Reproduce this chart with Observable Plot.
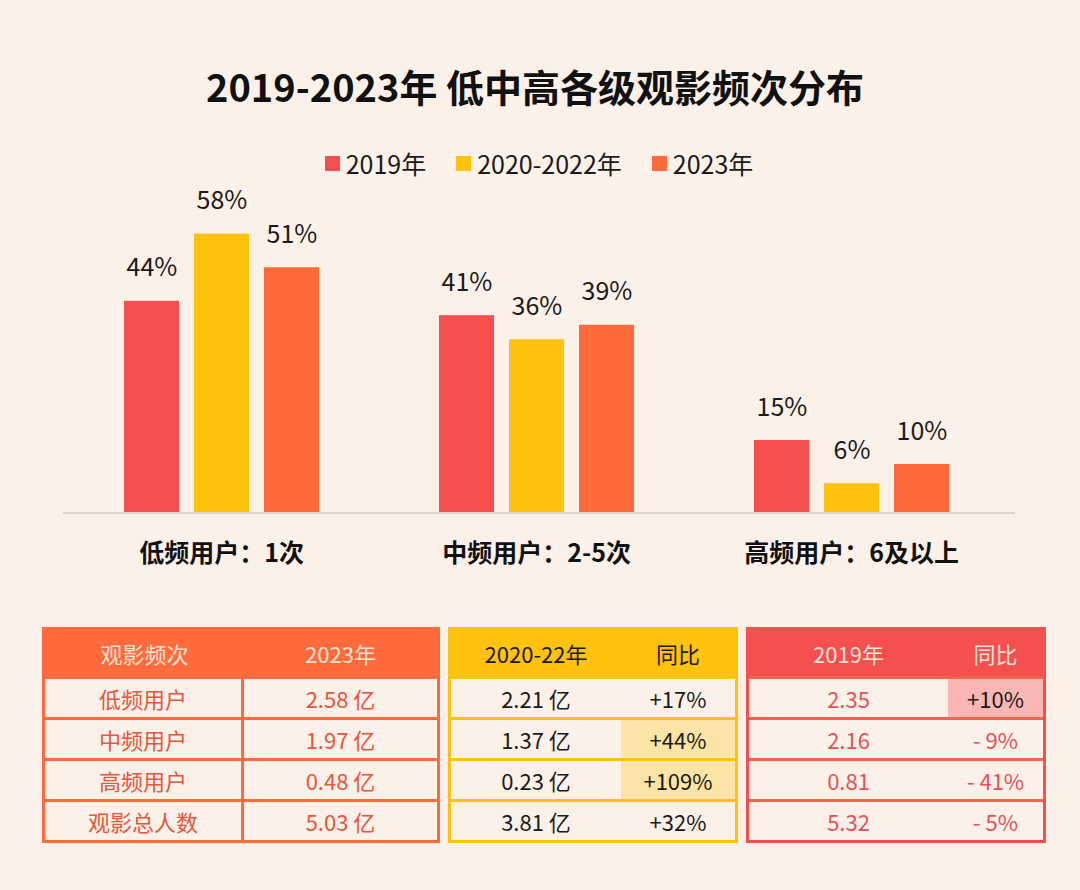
<!DOCTYPE html>
<html>
<head>
<meta charset="utf-8">
<script src="https://cdn.jsdelivr.net/npm/d3@7"></script>
<script src="https://cdn.jsdelivr.net/npm/@observablehq/plot@0.6"></script>
<style>
  html, body { margin: 0; padding: 0; background: #FCF1E8; }
  body { font-family: "Noto Sans CJK SC", "Noto Sans", sans-serif; }
  #page { position: relative; width: 1080px; height: 890px; overflow: hidden; background: #FCF1E8; }
  #title { position: absolute; top: 59px; left: 0; width: 1070px; text-align: center; font-size: 38px; font-weight: 700; color: #111; line-height: 54px; }
  #legend { position: absolute; top: 145px; left: 0; width: 1078px; display: flex; justify-content: center; gap: 30px; font-size: 25px; color: #1a1a1a; line-height: 36px; }
  #legend .item { display: flex; align-items: center; }
  #legend .sw { width: 15px; height: 15px; margin-right: 6px; }
  #chart { position: absolute; top: 180px; left: 0; }
  .tbl { position: absolute; top: 627px; height: 216px; box-sizing: border-box; border: 3px solid; display: grid; }
  .tbl .c { display: flex; align-items: center; justify-content: center; font-size: 22px; box-sizing: border-box; }
  .tbl .h { height: 46px; }
  .tbl .b { height: 41px; border-top: 3px solid; }
</style>
</head>
<body>
<div id="page">
  <div id="title"></div>
  <div id="legend"></div>
  <div id="chart"></div>
  <div id="t1" class="tbl"></div>
  <div id="t2" class="tbl"></div>
  <div id="t3" class="tbl"></div>
</div>
<script>
// ---- chart data ----
const titleText = "2019-2023年 低中高各级观影频次分布";
const categories = ["低频用户：1次", "中频用户：2-5次", "高频用户：6及以上"];
const series = ["2019年", "2020-2022年", "2023年"];
const share2019 = [44, 41, 15];
const share2020_2022 = [58, 36, 6];
const share2023 = [51, 39, 10];
const seriesColors = ["#F5504F", "#FFC20E", "#FF6A3D"];

// ---- table data ----
const freqLabels = ["低频用户", "中频用户", "高频用户", "观影总人数"];
const users2023 = ["2.58 亿", "1.97 亿", "0.48 亿", "5.03 亿"];
const users2020_22 = ["2.21 亿", "1.37 亿", "0.23 亿", "3.81 亿"];
const yoy2020_22 = ["+17%", "+44%", "+109%", "+32%"];
const users2019 = ["2.35", "2.16", "0.81", "5.32"];
const yoy2019 = ["+10%", "- 9%", "- 41%", "- 5%"];
const highlight2020_22 = [false, true, true, false];
const highlight2019 = [true, false, false, false];

document.getElementById("title").textContent = titleText;

// legend
const legend = d3.select("#legend");
series.forEach((s, i) => {
  const it = legend.append("div").attr("class", "item");
  it.append("div").attr("class", "sw").style("background", seriesColors[i]);
  it.append("span").text(s);
});

// bars
const values = [share2019, share2020_2022, share2023];
const data = categories.flatMap((c, i) => series.map((s, j) => ({cat: c, ser: s, v: values[j][i]})));

const chart = Plot.plot({
  width: 1080,
  height: 420,
  marginTop: 44,
  marginBottom: 88,
  marginLeft: 63,
  marginRight: 72,
  style: {background: "transparent", fontFamily: "'Noto Sans CJK SC', 'Noto Sans', sans-serif", overflow: "visible"},
  fx: {domain: categories, paddingInner: 1/3, paddingOuter: 1/6, label: null, axis: null},
  x: {domain: series, paddingInner: 0.2143, paddingOuter: 0.1071, axis: null},
  y: {domain: [0, 60], axis: null},
  color: {domain: series, range: seriesColors},
  marks: [
    Plot.barY(data, {fx: "cat", x: "ser", y: "v", fill: "ser"}),
    Plot.text(data, {fx: "cat", x: "ser", y: "v", text: d => d.v + "%", dy: -25, lineAnchor: "bottom", fontSize: 25, fill: "#1a1a1a"}),
    Plot.axisFx({anchor: "bottom", tickSize: 0, tickPadding: 32, fontSize: 25, fontWeight: 700, fill: "#111", label: null})
  ]
});
document.getElementById("chart").appendChild(chart);

// baseline across all groups, placed with the chart's own y scale
const y0 = chart.scale("y").apply(0);
d3.select(chart).insert("line", ":first-child")
  .attr("x1", 63).attr("x2", 1015)
  .attr("y1", y0 + 1).attr("y2", y0 + 1)
  .attr("stroke", "#DDD5CD").attr("stroke-width", 2);

// tables
function makeTable(id, opt) {
  const t = d3.select("#" + id)
    .style("left", opt.left + "px").style("width", opt.width + "px")
    .style("border-color", opt.color)
    .style("grid-template-columns", opt.cols);
  opt.header.forEach(h => {
    t.append("div").attr("class", "c h").style("background", opt.color).style("color", opt.headColor).text(h);
  });
  for (let r = 0; r < opt.rows[0].length; r++) {
    opt.rows.forEach((col, k) => {
      const cell = t.append("div").attr("class", "c b").style("border-top-color", opt.lineColor)
        .style("color", opt.bodyColor).text(col[r]);
      if (opt.divider && k === 0) cell.style("border-right", "3px solid " + opt.lineColor);
      if (opt.hl && k === 1 && opt.hl[r]) cell.style("background", opt.hlColor).style("color", opt.hlText);
    });
  }
}

makeTable("t1", {
  left: 42, width: 398, cols: "199px 193px", color: "#FF6B3D", lineColor: "#FF6B3D",
  headColor: "#FDE3D2", bodyColor: "#E5563D", divider: true,
  header: ["观影频次", "2023年"], rows: [freqLabels, users2023]
});
makeTable("t2", {
  left: 448, width: 290, cols: "170px 114px", color: "#FFC20E", lineColor: "#FFC20E",
  headColor: "#1a1a1a", bodyColor: "#1a1a1a", divider: false,
  header: ["2020-22年", "同比"], rows: [users2020_22, yoy2020_22],
  hl: highlight2020_22, hlColor: "#FBE4A6", hlText: "#1a1a1a"
});
makeTable("t3", {
  left: 746, width: 300, cols: "199px 95px", color: "#F5504F", lineColor: "#F2644C",
  headColor: "#FDE3D8", bodyColor: "#E6505A", divider: false,
  header: ["2019年", "同比"], rows: [users2019, yoy2019],
  hl: highlight2019, hlColor: "#F9B6B4", hlText: "#1a1a1a"
});
</script>
</body>
</html>
